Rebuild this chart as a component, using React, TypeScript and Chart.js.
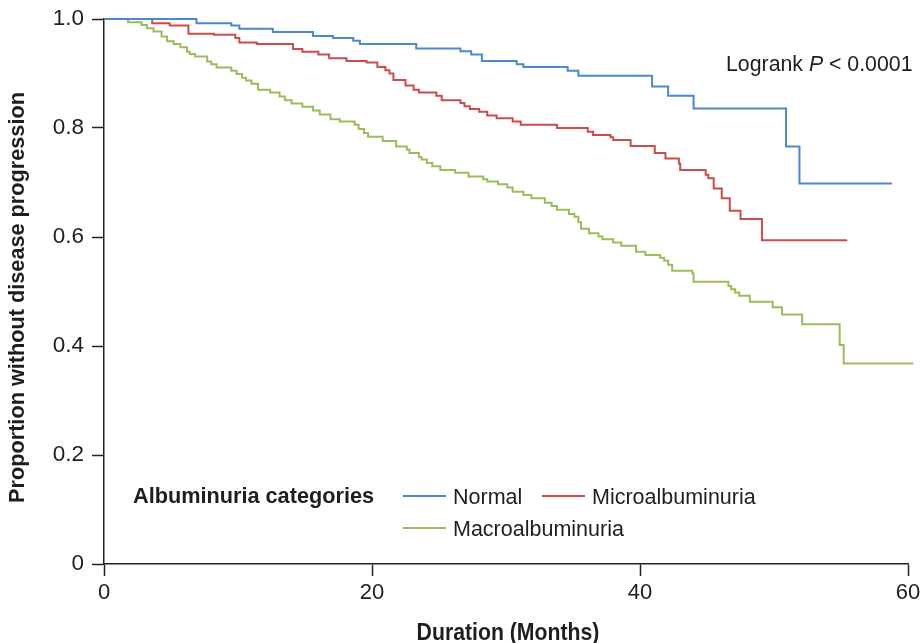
import React, { useEffect, useRef } from "react";
import { Chart, registerables } from "chart.js";

Chart.register(...registerables);

const FONT = "'Liberation Sans', Arial, Helvetica, sans-serif";
const TEXT = "#1e1e1e";

const seriesNames = ["Normal", "Microalbuminuria", "Macroalbuminuria"];
const seriesColors = ["#4a88cf", "#cc4c4a", "#9bbd59"];
const legendTitle = "Albuminuria categories";
const yAxisTitle = "Proportion without disease progression";
const xAxisTitle = "Duration (Months)";
const xTickValues = [0, 20, 40, 60];
const yTickValues = [0, 0.2, 0.4, 0.6, 0.8, 1.0];

const normalTimes = [0, 6.9, 9.5, 10.1, 12.6, 15.6, 17.1, 18.6, 19.1, 23.3, 26.6, 27.4, 28.2, 30.8, 31.3, 34.6, 35.4, 40.9, 42.1, 44.0, 50.9, 51.9, 58.8];
const normalSurv = [1.0, 0.992, 0.988, 0.982, 0.976, 0.969, 0.965, 0.96, 0.954, 0.946, 0.941, 0.935, 0.923, 0.917, 0.912, 0.905, 0.896, 0.876, 0.859, 0.836, 0.766, 0.698, 0.698];

const microTimes = [0, 3.6, 4.9, 6.3, 8.2, 9.8, 10.1, 11.4, 14.1, 14.8, 16.0, 16.8, 18.1, 19.6, 20.4, 21.0, 21.3, 21.6, 22.5, 23.1, 23.5, 24.8, 25.2, 26.6, 26.9, 27.3, 28.0, 28.6, 29.3, 30.5, 31.1, 33.8, 36.1, 36.5, 37.8, 38.0, 39.3, 41.1, 41.9, 42.9, 43.0, 44.9, 45.1, 45.5, 46.1, 46.7, 47.5, 49.1, 55.4];
const microSurv = [1.0, 0.992, 0.988, 0.973, 0.971, 0.965, 0.957, 0.954, 0.945, 0.94, 0.935, 0.928, 0.923, 0.92, 0.912, 0.906, 0.9, 0.888, 0.878, 0.87, 0.865, 0.859, 0.851, 0.846, 0.84, 0.835, 0.83, 0.823, 0.818, 0.812, 0.806, 0.8, 0.793, 0.787, 0.783, 0.778, 0.767, 0.754, 0.744, 0.735, 0.723, 0.714, 0.708, 0.689, 0.671, 0.648, 0.633, 0.594, 0.595];

const macroTimes = [0, 1.8, 2.8, 3.2, 3.7, 4.3, 4.7, 5.2, 5.7, 6.2, 6.4, 6.8, 7.7, 8.0, 8.4, 9.5, 9.9, 10.3, 10.6, 11.0, 11.5, 12.4, 13.1, 13.5, 14.0, 14.8, 15.6, 16.1, 16.9, 17.6, 18.7, 19.0, 19.4, 19.7, 20.8, 21.8, 22.6, 22.8, 23.5, 23.7, 24.1, 24.5, 25.1, 26.2, 27.2, 28.3, 28.6, 29.4, 30.1, 30.5, 31.3, 31.9, 32.9, 33.4, 33.8, 34.7, 35.1, 35.4, 35.6, 36.2, 36.9, 37.2, 38.0, 38.6, 39.7, 40.4, 41.5, 41.8, 42.1, 42.4, 43.9, 44.0, 46.6, 46.8, 47.1, 47.4, 48.2, 49.9, 50.6, 52.1, 54.9, 55.2, 60.4];
const macroSurv = [1.0, 0.994, 0.989, 0.983, 0.977, 0.968, 0.959, 0.954, 0.948, 0.94, 0.936, 0.931, 0.922, 0.917, 0.911, 0.905, 0.899, 0.892, 0.887, 0.881, 0.87, 0.865, 0.858, 0.851, 0.845, 0.839, 0.832, 0.825, 0.816, 0.812, 0.806, 0.798, 0.791, 0.784, 0.776, 0.766, 0.76, 0.754, 0.747, 0.742, 0.736, 0.73, 0.723, 0.718, 0.711, 0.706, 0.702, 0.697, 0.691, 0.683, 0.677, 0.671, 0.663, 0.657, 0.65, 0.642, 0.637, 0.627, 0.615, 0.607, 0.601, 0.596, 0.59, 0.584, 0.573, 0.567, 0.562, 0.557, 0.549, 0.538, 0.533, 0.518, 0.51, 0.504, 0.498, 0.492, 0.481, 0.471, 0.458, 0.44, 0.402, 0.368, 0.368];

const pValueText = ["Logrank ", "P", " < 0.0001"];

function toPoints(t: number[], s: number[]) {
  return t.map((x, i) => ({ x, y: s[i] }));
}

const annotationsPlugin = {
  id: "kmAnnotations",
  afterDraw(chart: any) {
    const { ctx, chartArea } = chart;
    const L = chartArea.left;
    const T = chartArea.top;
    ctx.save();
    ctx.textBaseline = "middle";
    ctx.fillStyle = TEXT;
    // p-value text
    let x = L + 622;
    const py = T + 46;
    ctx.font = `21.3px ${FONT}`;
    ctx.fillText(pValueText[0], x, py);
    x += ctx.measureText(pValueText[0]).width;
    ctx.font = `italic 21.3px ${FONT}`;
    ctx.fillText(pValueText[1], x, py);
    x += ctx.measureText(pValueText[1]).width;
    ctx.font = `21.3px ${FONT}`;
    ctx.fillText(pValueText[2], x, py);

    // legend
    const ds = chart.data.datasets;
    ctx.font = `bold 21.7px ${FONT}`;
    ctx.fillText(legendTitle, L + 29, T + 478);
    const items = [
      { lx: L + 299, ly: T + 477 },
      { lx: L + 438, ly: T + 477 },
      { lx: L + 299, ly: T + 509 },
    ];
    ctx.font = `21.5px ${FONT}`;
    items.forEach((it, i) => {
      ctx.strokeStyle = ds[i].borderColor;
      ctx.lineWidth = 2;
      ctx.beginPath();
      ctx.moveTo(it.lx, it.ly);
      ctx.lineTo(it.lx + 43, it.ly);
      ctx.stroke();
      ctx.fillStyle = TEXT;
      ctx.fillText(ds[i].label, it.lx + 50, it.ly + 2);
    });
    ctx.restore();

    // x axis title (slightly condensed, as in the reference)
    ctx.save();
    ctx.fillStyle = TEXT;
    ctx.textBaseline = "middle";
    ctx.textAlign = "center";
    const cx = (chartArea.left + chartArea.right) / 2 + 2;
    ctx.translate(cx, chart.height - 10);
    ctx.scale(0.885, 1);
    ctx.font = `bold 24px ${FONT}`;
    ctx.fillText(xAxisTitle, 0, 0);
    ctx.restore();

    // y axis title
    ctx.save();
    ctx.fillStyle = TEXT;
    ctx.textBaseline = "middle";
    ctx.textAlign = "center";
    ctx.translate(18, (chartArea.top + chartArea.bottom) / 2 + 6);
    ctx.rotate(-Math.PI / 2);
    ctx.font = `bold 21.7px ${FONT}`;
    ctx.fillText(yAxisTitle, 0, 0);
    ctx.restore();
  },
};

export default function App() {
  const ref = useRef<HTMLCanvasElement | null>(null);
  useEffect(() => {
    document.body.style.margin = "0";
    const canvas = ref.current!;
    const series = [
      toPoints(normalTimes, normalSurv),
      toPoints(microTimes, microSurv),
      toPoints(macroTimes, macroSurv),
    ];
    const chart = new Chart(canvas, {
      type: "line",
      data: {
        datasets: series.map((d, i) => ({
          label: seriesNames[i],
          data: d,
          borderColor: seriesColors[i],
          backgroundColor: seriesColors[i],
          borderWidth: 2,
          pointRadius: 0,
          stepped: true,
          fill: false,
          clip: false as any,
        })),
      },
      options: {
        animation: false,
        responsive: false,
        devicePixelRatio: 1,
        layout: { autoPadding: false, padding: { top: 19, right: 12, left: 0, bottom: 0 } } as any,
        plugins: { legend: { display: false }, tooltip: { enabled: false } },
        scales: {
          x: {
            type: "linear",
            min: 0,
            max: 60,
            afterFit: (s: any) => {
              s.height = 79;
              s.paddingLeft = 0;
              s.paddingRight = 0;
            },
            afterBuildTicks: (s: any) => {
              s.ticks = xTickValues.map((v) => ({ value: v }));
            },
            ticks: {
              color: TEXT,
              font: { family: FONT, size: 22 },
              padding: 4,
              maxRotation: 0,
            },
            grid: {
              drawOnChartArea: false,
              drawTicks: true,
              tickLength: 12,
              tickColor: "#222",
              tickWidth: 1.5,
            },
            border: { color: "#222", width: 1.5 },
            title: { display: false, text: xAxisTitle },
          },
          y: {
            type: "linear",
            min: 0,
            max: 1,
            afterFit: (s: any) => {
              s.width = 104;
              s.paddingTop = 0;
              s.paddingBottom = 0;
            },
            afterBuildTicks: (s: any) => {
              s.ticks = yTickValues.map((v) => ({ value: v }));
            },
            ticks: {
              color: TEXT,
              font: { family: FONT, size: 22.5 },
              padding: 8,
              callback: (v: any) => (Number(v) === 0 ? "0" : Number(v).toFixed(1)),
            },
            grid: {
              drawOnChartArea: false,
              drawTicks: true,
              tickLength: 12,
              tickColor: "#222",
              tickWidth: 1.5,
            },
            border: { color: "#222", width: 1.5 },
            title: { display: false, text: yAxisTitle },
          },
        },
      },
      plugins: [annotationsPlugin],
    });
    return () => chart.destroy();
  }, []);
  return (
    <div style={{ width: 920, height: 643, background: "#fff" }}>
      <canvas ref={ref} width={920} height={643} style={{ display: "block" }} />
    </div>
  );
}
